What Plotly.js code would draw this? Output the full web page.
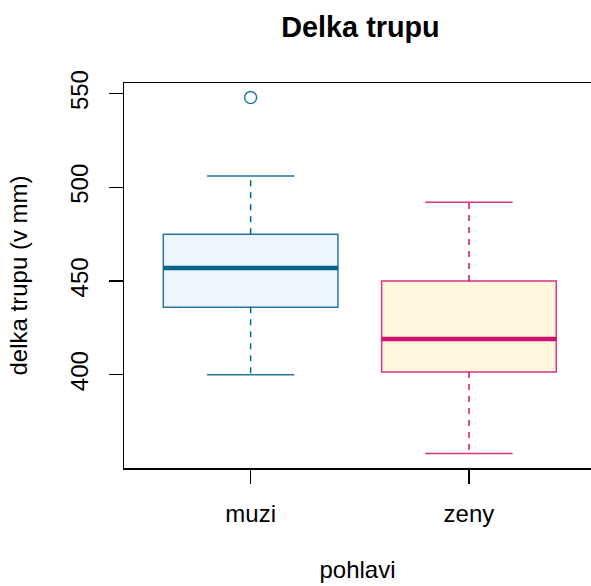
<!DOCTYPE html>
<html><head><meta charset="utf-8">
<script src="https://cdn.plot.ly/plotly-3.0.1.min.js"></script>
<style>html,body{margin:0;padding:0;background:#fff}#chart{width:591px;height:586px}</style>
</head><body><div id="chart"></div>
<script>
const categories = ["muzi", "zeny"];
const lowerWhisker = [400, 358];
const q1 = [436, 401.5];
const medians = [457, 419];
const q3 = [475, 450];
const upperWhisker = [506, 492];
const outliers = [[548], []];
const borderColors = ["#22799B", "#D9338A"];
const medianColors = ["#00658A", "#D0126F"];
const fillColors = ["#EEF6FD", "#FFF6DC"];

const traces = [];
categories.forEach((c, i) => {
  const xi = i + 1;
  traces.push({
    type: "box", x: [xi], q1: [q1[i]], median: [medians[i]], q3: [q3[i]],
    lowerfence: [q1[i]], upperfence: [q3[i]], width: 0.8,
    fillcolor: fillColors[i], line: {color: borderColors[i], width: 1.5},
    whiskerwidth: 0, hoverinfo: "skip", showlegend: false
  });
  traces.push({type: "scatter", mode: "lines", x: [xi - 0.4, xi + 0.4], y: [medians[i], medians[i]],
    line: {color: medianColors[i], width: 4.5}, showlegend: false, hoverinfo: "skip"});
  traces.push({type: "scatter", mode: "lines", x: [xi, xi, null, xi, xi],
    y: [q3[i], upperWhisker[i], null, q1[i], lowerWhisker[i]],
    line: {color: medianColors[i], width: 1.5, dash: "6px,6px"}, showlegend: false, hoverinfo: "skip"});
  traces.push({type: "scatter", mode: "lines", x: [xi - 0.2, xi + 0.2, null, xi - 0.2, xi + 0.2],
    y: [upperWhisker[i], upperWhisker[i], null, lowerWhisker[i], lowerWhisker[i]],
    line: {color: borderColors[i], width: 1.5}, showlegend: false, hoverinfo: "skip"});
  if (outliers[i].length) {
    traces.push({type: "scatter", mode: "markers", x: outliers[i].map(() => xi), y: outliers[i],
      marker: {symbol: "circle-open", size: 12, color: borderColors[i], line: {width: 1.5}},
      showlegend: false, hoverinfo: "skip"});
  }
});

const layout = {
  width: 591, height: 586,
  margin: {l: 124, r: 0, t: 83, b: 118},
  paper_bgcolor: "#fff", plot_bgcolor: "#fff",
  font: {family: "Liberation Sans, Arial, sans-serif", size: 24, color: "#000"},
  title: {text: "<b>Delka trupu</b>", x: 0.61, xanchor: "center", y: 0.954, yanchor: "middle",
    font: {size: 28.8, family: "Liberation Sans, Arial, sans-serif"}},
  xaxis: {
    range: [0.42, 2.559], tickvals: [1, 2], ticktext: categories,
    showgrid: false, zeroline: false, showline: true, mirror: true, linecolor: "#000", linewidth: 1.5,
    ticks: "outside", ticklen: 14, tickwidth: 1.5, tickcolor: "#000", ticklabelstandoff: 10,
    tickfont: {size: 24},
    title: {text: "pohlavi", standoff: 35, font: {size: 24}}
  },
  yaxis: {
    range: [350.2, 555.7], tickvals: [400, 450, 500, 550], tickangle: -90,
    showgrid: false, zeroline: false, showline: true, linecolor: "#000", linewidth: 1.5,
    ticks: "outside", ticklen: 14, tickwidth: 1.5, tickcolor: "#000", ticklabelstandoff: 11,
    tickfont: {size: 24},
    title: {text: "delka trupu (v mm)", standoff: 31, font: {size: 24}}
  },
  boxmode: "overlay"
};
Plotly.newPlot("chart", traces, layout, {staticPlot: true, displayModeBar: false});
</script></body></html>
